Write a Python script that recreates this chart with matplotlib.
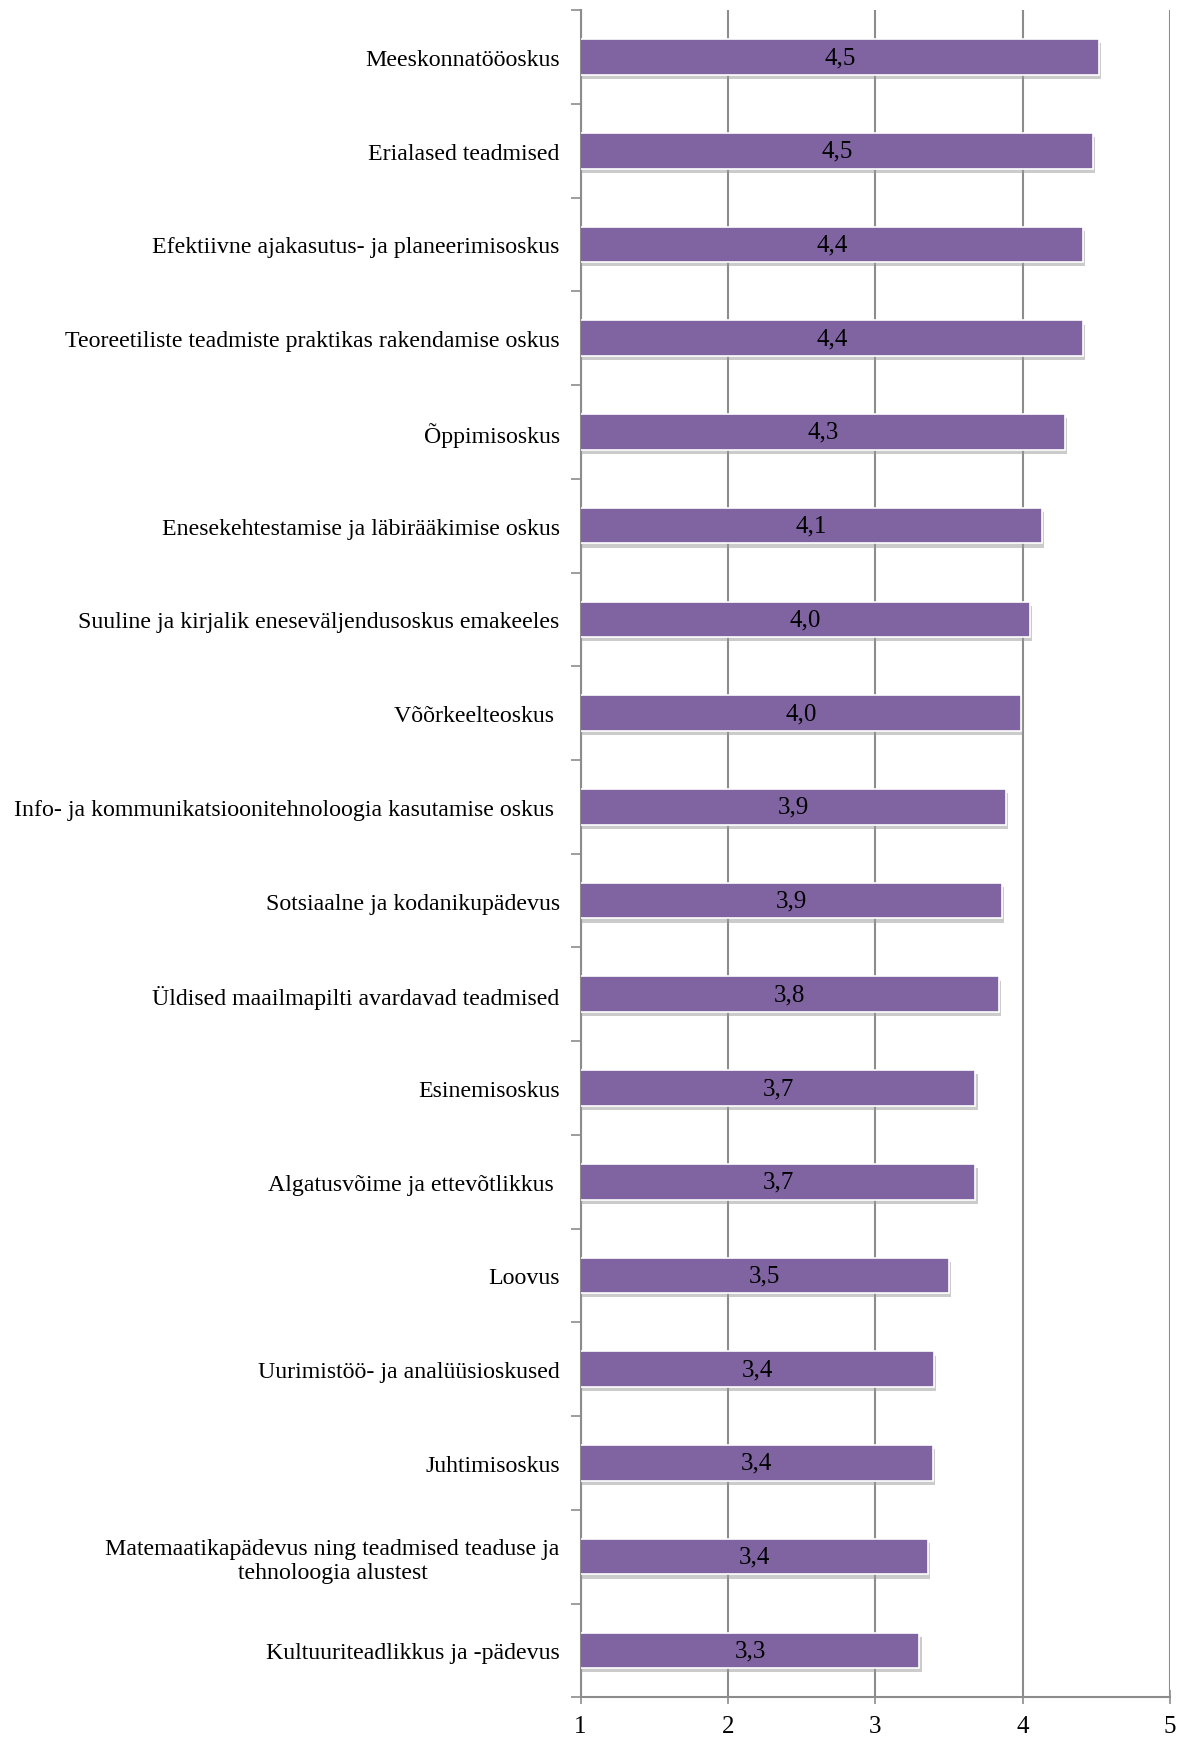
import matplotlib.pyplot as plt
import matplotlib.patheffects as pe
import numpy as np

skills = ['Meeskonnatööoskus', 'Erialased teadmised',
          'Efektiivne ajakasutus- ja planeerimisoskus',
          'Teoreetiliste teadmiste praktikas rakendamise oskus',
          'Õppimisoskus', 'Enesekehtestamise ja läbirääkimise oskus',
          'Suuline ja kirjalik eneseväljendusoskus emakeeles',
          'Võõrkeelteoskus ',
          'Info- ja kommunikatsioonitehnoloogia kasutamise oskus ',
          'Sotsiaalne ja kodanikupädevus',
          'Üldised maailmapilti avardavad teadmised', 'Esinemisoskus',
          'Algatusvõime ja ettevõtlikkus ', 'Loovus',
          'Uurimistöö- ja analüüsioskused', 'Juhtimisoskus',
          'Matemaatikapädevus ning teadmised teaduse ja\ntehnoloogia alustest',
          'Kultuuriteadlikkus ja -pädevus']
scores = [4.52, 4.48, 4.41, 4.41, 4.29, 4.13, 4.05, 3.99, 3.89, 3.86,
          3.84, 3.68, 3.68, 3.50, 3.40, 3.39, 3.36, 3.30]
xticks = [1, 2, 3, 4, 5]

plt.rcParams['font.family'] = ['Liberation Serif', 'DejaVu Serif']

fig = plt.figure(figsize=(11.8, 17.4), dpi=100)
ax = fig.add_axes([0.492, 0.024, 0.4995, 0.9696])

pos = np.arange(len(skills))
bars = ax.barh(pos, scores, height=0.38, color='#8064A2', edgecolor='white',
               linewidth=1.2, zorder=3)
for b in bars:
    b.set_path_effects([pe.SimplePatchShadow(offset=(1.5, -3), shadow_rgbFace='#999999', alpha=0.5),
                        pe.Normal()])

for p, v in zip(pos, scores):
    ax.text((1 + v) / 2, p, f'{v:.1f}'.replace('.', ','), ha='center', va='center',
            fontsize=18, color='black', zorder=4)

ax.set_xlim(1, 5)
ax.set_ylim(len(skills) - 0.5, -0.5)
ax.set_xticks(xticks)
ax.set_xticklabels([str(t) for t in xticks], fontsize=18)
ax.set_yticks(pos)
labels = ax.set_yticklabels(skills, fontsize=17.2)
for lab in labels:
    lab.set_multialignment('center')
ax.set_yticks(np.arange(len(skills) + 1) - 0.5, minor=True)

ax.tick_params(axis='y', which='major', length=0, pad=15)
ax.tick_params(axis='y', which='minor', length=7, width=1.2, color='#8c8c8c', direction='out')
ax.tick_params(axis='x', length=10, width=1.2, color='#8c8c8c', direction='inout', pad=8)

ax.grid(axis='x', color='#8c8c8c', linewidth=1.5, zorder=0)
for s in ['top', 'right']:
    ax.spines[s].set_visible(False)
for s in ['left', 'bottom']:
    ax.spines[s].set_color('#8c8c8c')
    ax.spines[s].set_linewidth(1.5)

plt.savefig('out.png', dpi=100)
